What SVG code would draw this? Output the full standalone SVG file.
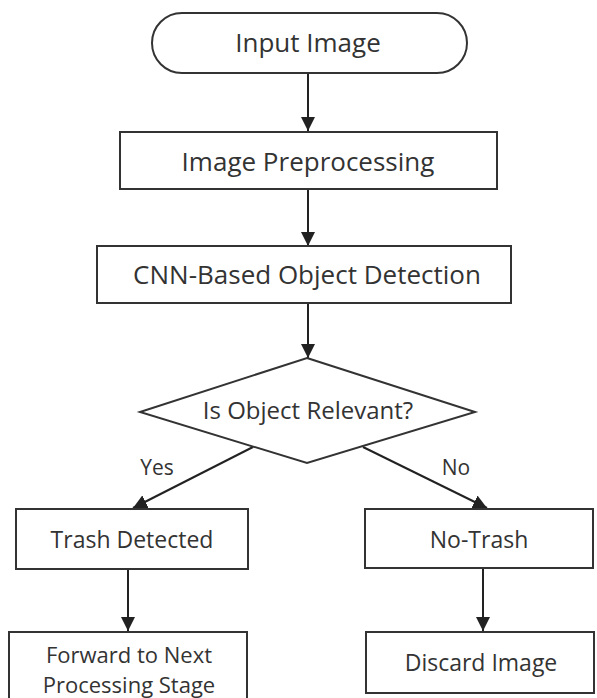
<svg xmlns="http://www.w3.org/2000/svg" width="597" height="698" viewBox="0 0 597 698">
<defs>
<marker id="ah" viewBox="0 0 10 10" refX="10" refY="5" markerWidth="14" markerHeight="14" markerUnits="userSpaceOnUse" orient="auto">
<path d="M0,0 L10,5 L0,10 z" fill="#222"/>
</marker>
<style>
.n{fill:#fff;stroke:#333;stroke-width:2}
.t{font-family:"Open Sans","Noto Sans",sans-serif;font-size:23px;fill:#333;text-anchor:middle;dominant-baseline:central}
.big{font-size:26px}
.mid{font-size:24px}
.sm{font-size:22px}
.lbl{font-size:21px}
.c{stroke:#222;stroke-width:2;fill:none;marker-end:url(#ah)}
</style>
</defs>
<rect width="597" height="698" fill="#fff"/>
<g id="connectors">
<line class="c" x1="308" y1="73" x2="308" y2="131"/>
<line class="c" x1="308" y1="189" x2="308" y2="246"/>
<line class="c" x1="308" y1="303" x2="308" y2="358"/>
<line class="c" x1="253" y1="447" x2="133" y2="508"/>
<line class="c" x1="363" y1="447" x2="487" y2="508"/>
<line class="c" x1="128" y1="569" x2="128" y2="631"/>
<line class="c" x1="483" y1="568" x2="483" y2="631"/>
<text class="t lbl" x="157" y="467">Yes</text>
<text class="t lbl" x="456" y="467">No</text>
</g>
<g id="input"><rect class="n" x="152" y="13" width="315" height="60" rx="30"/><text class="t big" x="308" y="42">Input Image</text></g>
<g id="preprocess"><rect class="n" x="120" y="132" width="377" height="57"/><text class="t big" x="308" y="161">Image Preprocessing</text></g>
<g id="cnn"><rect class="n" x="97" y="246" width="414" height="57"/><text class="t big" x="307" y="274">CNN-Based Object Detection</text></g>
<g id="decision"><polygon class="n" points="307,358 475,412 307,463 140,412"/><text class="t mid" x="308" y="409">Is Object Relevant?</text></g>
<g id="trash"><rect class="n" x="16" y="509" width="232" height="60"/><text class="t" x="132" y="539">Trash Detected</text></g>
<g id="notrash"><rect class="n" x="365" y="509" width="228" height="59"/><text class="t" x="479" y="539">No-Trash</text></g>
<g id="forward"><rect class="n" x="9" y="632" width="238" height="70"/><text class="t sm" x="129" y="654">Forward to Next</text><text class="t sm" x="129" y="684">Processing Stage</text></g>
<g id="discard"><rect class="n" x="366" y="632" width="228" height="61"/><text class="t" x="481" y="662">Discard Image</text></g>
</svg>
